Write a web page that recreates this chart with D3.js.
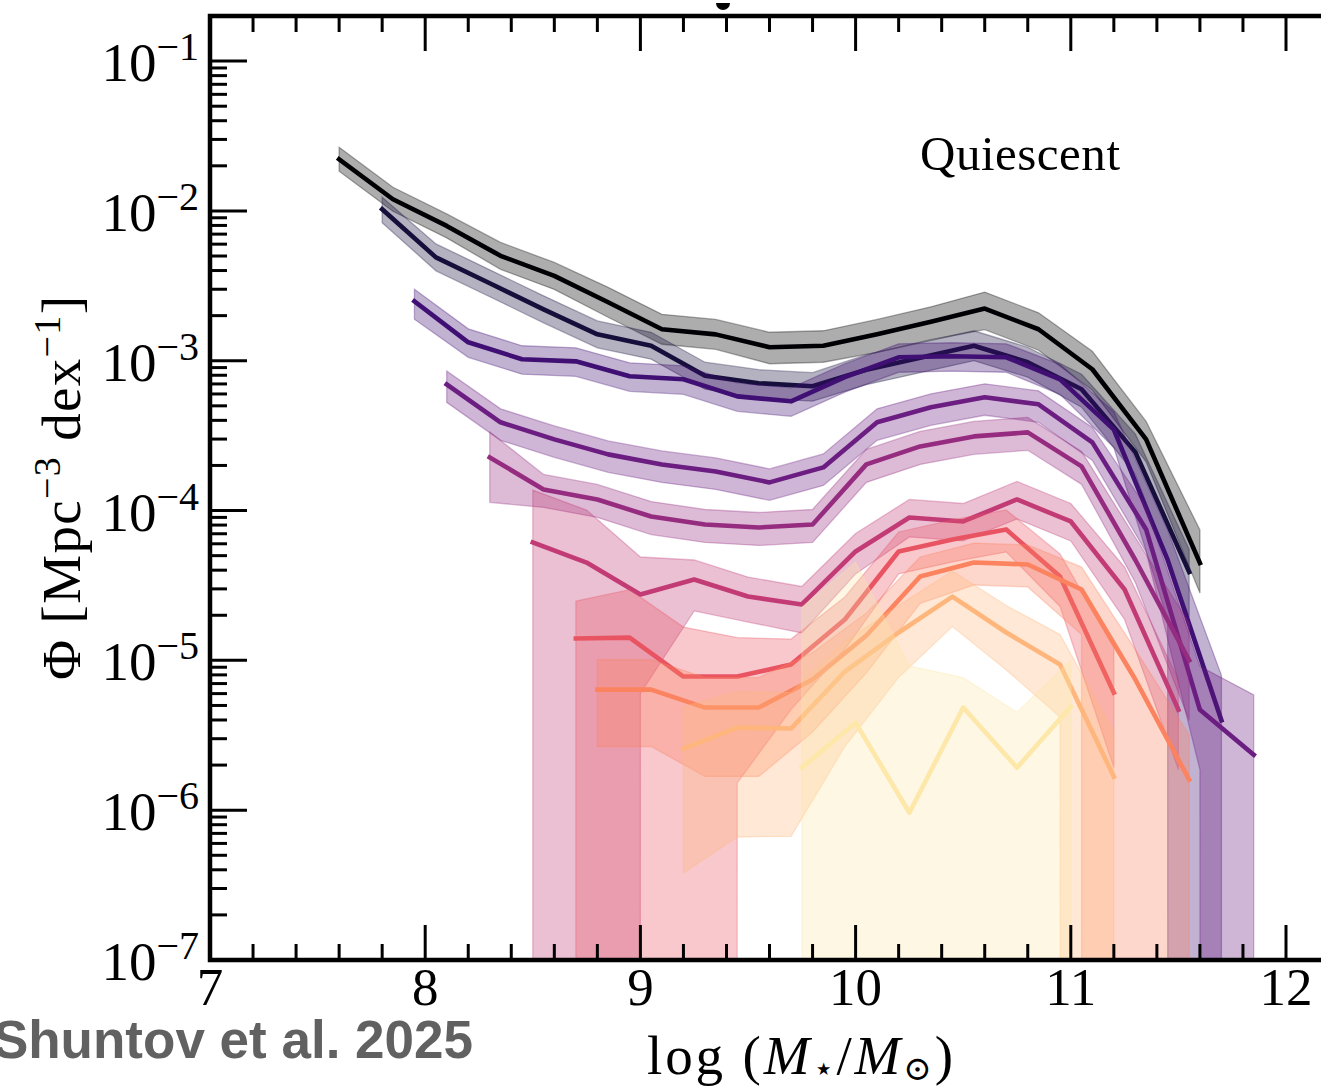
<!DOCTYPE html>
<html><head><meta charset="utf-8">
<script src="https://cdn.jsdelivr.net/npm/d3@7"></script>
<style>body{margin:0;background:#fff;overflow:hidden}svg{display:block}</style>
</head><body>
<svg id="chart" width="1321" height="1092"></svg>
<script>
// ---- data: log10(M*/Msun) bin centres, log10(Phi), and band half-widths (dex); null = lower bound unconstrained
const s0_logM = [7.6,7.85,8.1,8.35,8.6,8.85,9.1,9.35,9.6,9.85,10.1,10.35,10.6,10.85,11.1,11.35,11.6];
const s0_logPhi = [-1.655,-1.922,-2.100,-2.300,-2.434,-2.610,-2.790,-2.824,-2.910,-2.900,-2.824,-2.740,-2.652,-2.790,-3.057,-3.525,-4.350];
const s0_errUp = [0.08,0.08,0.08,0.09,0.09,0.1,0.1,0.1,0.1,0.1,0.1,0.1,0.11,0.11,0.12,0.12,0.22];
const s0_errDn = [0.08,0.08,0.08,0.09,0.09,0.1,0.1,0.1,0.11,0.11,0.12,0.12,0.14,0.14,0.14,0.15,0.2];

const s1_logM = [7.8,8.05,8.3,8.55,8.8,9.05,9.3,9.55,9.8,10.05,10.3,10.55,10.8,11.05,11.3,11.55];
const s1_logPhi = [-1.989,-2.310,-2.483,-2.657,-2.824,-2.900,-3.100,-3.150,-3.170,-3.060,-2.980,-2.900,-3.010,-3.190,-3.610,-4.410];
const s1_errUp = [0.08,0.09,0.09,0.09,0.09,0.09,0.09,0.09,0.09,0.1,0.1,0.1,0.1,0.1,0.12,0.15];
const s1_errDn = [0.09,0.09,0.09,0.09,0.09,0.09,0.09,0.1,0.1,0.1,0.1,0.1,0.1,0.12,0.15,0.3];

const s2_logM = [7.95,8.2,8.45,8.7,8.95,9.2,9.45,9.7,9.95,10.2,10.45,10.7,10.95,11.2,11.45,11.7];
const s2_logPhi = [-2.603,-2.877,-2.990,-3.004,-3.104,-3.124,-3.238,-3.271,-3.110,-2.977,-2.970,-2.977,-3.124,-3.460,-4.330,-5.400];
const s2_errUp = [0.08,0.09,0.09,0.09,0.09,0.09,0.09,0.09,0.09,0.09,0.09,0.09,0.1,0.12,0.2,0.3];
const s2_errDn = [0.12,0.1,0.1,0.1,0.1,0.1,0.1,0.1,0.1,0.1,0.1,0.1,0.1,0.12,0.4,null];

const s3_logM = [8.1,8.35,8.6,8.85,9.1,9.35,9.6,9.85,10.1,10.35,10.6,10.85,11.1,11.35,11.6,11.85];
const s3_logPhi = [-3.158,-3.411,-3.525,-3.625,-3.692,-3.739,-3.812,-3.712,-3.411,-3.311,-3.244,-3.291,-3.545,-4.126,-5.330,-5.630];
const s3_errUp = [0.09,0.09,0.09,0.09,0.09,0.09,0.09,0.09,0.09,0.09,0.09,0.09,0.1,0.15,0.29,0.4];
const s3_errDn = [0.12,0.12,0.12,0.12,0.12,0.12,0.12,0.12,0.12,0.12,0.12,0.12,0.12,0.15,0.4,null];

const s4_logM = [8.3,8.55,8.8,9.05,9.3,9.55,9.8,10.05,10.3,10.55,10.8,11.05,11.3,11.55];
const s4_logPhi = [-3.645,-3.859,-3.926,-4.040,-4.093,-4.113,-4.093,-3.692,-3.572,-3.505,-3.478,-3.705,-4.330,-5.000];
const s4_errUp = [0.17,0.1,0.1,0.1,0.1,0.1,0.1,0.1,0.1,0.1,0.1,0.1,0.15,0.25];
const s4_errDn = [0.3,0.12,0.12,0.12,0.12,0.12,0.12,0.12,0.12,0.12,0.12,0.12,0.15,0.4];

const s5_logM = [8.5,8.75,9.0,9.25,9.5,9.75,10.0,10.25,10.5,10.75,11.0,11.25,11.5];
const s5_logPhi = [-4.213,-4.347,-4.560,-4.460,-4.574,-4.627,-4.273,-4.046,-4.073,-3.926,-4.073,-4.527,-5.330];
const s5_errUp = [0.35,0.35,0.25,0.13,0.13,0.12,0.12,0.12,0.12,0.12,0.12,0.15,0.2];
const s5_errDn = [null,null,0.66,0.21,0.17,0.19,0.15,0.13,0.13,0.13,0.13,0.2,0.4];

const s6_logM = [8.7,8.95,9.2,9.45,9.7,9.95,10.2,10.45,10.7,10.95,11.2];
const s6_logPhi = [-4.854,-4.848,-5.108,-5.108,-5.028,-4.727,-4.273,-4.193,-4.126,-4.440,-5.215];
const s6_errUp = [0.25,0.32,0.33,0.26,0.17,0.15,0.13,0.13,0.13,0.15,0.3];
const s6_errDn = [null,null,null,0.71,0.3,0.2,0.15,0.15,0.15,0.2,0.5];

const s7_logM = [8.8,9.05,9.3,9.55,9.8,10.05,10.3,10.55,10.8,11.05,11.3,11.55];
const s7_logPhi = [-5.195,-5.195,-5.315,-5.315,-5.128,-4.834,-4.440,-4.347,-4.360,-4.527,-5.128,-5.796];
const s7_errUp = [0.2,0.2,0.2,0.2,0.18,0.15,0.13,0.13,0.13,0.15,0.2,0.3];
const s7_errDn = [0.38,0.38,0.46,0.46,0.35,0.25,0.18,0.15,0.15,0.3,null,null];

const s8_logM = [9.2,9.45,9.7,9.95,10.2,10.45,10.7,10.95,11.2];
const s8_logPhi = [-5.589,-5.449,-5.455,-5.075,-4.814,-4.574,-4.814,-5.028,-5.776];
const s8_errUp = [0.28,0.24,0.24,0.2,0.18,0.17,0.18,0.2,0.3];
const s8_errDn = [0.83,0.73,0.72,0.5,0.3,0.2,0.25,0.35,null];

const s9_logM = [9.75,10.0,10.25,10.5,10.75,11.0];
const s9_logPhi = [-5.716,-5.416,-6.017,-5.315,-5.716,-5.309];
const s9_errUp = [1.07,1.07,0.98,0.2,0.37,0.31];
const s9_errDn = [null,null,null,null,null,null];

const colorPos = [0, 0.106, 0.211, 0.317, 0.422, 0.528, 0.633, 0.739, 0.844, 0.95];
const xTicksMajor = [7, 8, 9, 10, 11, 12];
const yTicksMajor = [-7, -6, -5, -4, -3, -2, -1];
const panelLabel = "Quiescent";
const creditText = "Shuntov et al. 2025";

const series = [
  [s0_logM, s0_logPhi, s0_errUp, s0_errDn],
  [s1_logM, s1_logPhi, s1_errUp, s1_errDn],
  [s2_logM, s2_logPhi, s2_errUp, s2_errDn],
  [s3_logM, s3_logPhi, s3_errUp, s3_errDn],
  [s4_logM, s4_logPhi, s4_errUp, s4_errDn],
  [s5_logM, s5_logPhi, s5_errUp, s5_errDn],
  [s6_logM, s6_logPhi, s6_errUp, s6_errDn],
  [s7_logM, s7_logPhi, s7_errUp, s7_errDn],
  [s8_logM, s8_logPhi, s8_errUp, s8_errDn],
  [s9_logM, s9_logPhi, s9_errUp, s9_errDn]
].map(([xs, vs, up, dn], i) => ({
  color: d3.interpolateMagma(colorPos[i]),
  pts: xs.map((m, j) => ({m, v: vs[j], hi: vs[j] + up[j], lo: dn[j] == null ? null : vs[j] - dn[j]}))
}));

// ---- layout
const L = 210, T = 16, B = 960, R = 210 + 5.5 * 215.2;
const svg = d3.select("#chart");
const x = d3.scaleLinear().domain([7, 12.5]).range([L, R]);
const y = d3.scaleLog().domain([1e-7, 0.2]).range([B, T]);

svg.append("defs").append("clipPath").attr("id", "plotclip")
  .append("rect").attr("x", L).attr("y", T).attr("width", R - L).attr("height", B - T);

const plot = svg.append("g").attr("clip-path", "url(#plotclip)");
const area = d3.area()
  .x(d => x(d.m))
  .y1(d => y(Math.pow(10, d.hi)))
  .y0(d => d.lo == null ? B + 200000 : y(Math.pow(10, d.lo)));
const line = d3.line().x(d => x(d.m)).y(d => y(Math.pow(10, d.v)));

series.forEach(s => {
  plot.append("path").attr("d", area(s.pts))
    .attr("fill", s.color).attr("fill-opacity", 0.32)
    .attr("stroke", s.color).attr("stroke-opacity", 0.32).attr("stroke-width", 1.3);
  plot.append("path").attr("d", line(s.pts))
    .attr("fill", "none").attr("stroke", s.color).attr("stroke-width", 4.6)
    .attr("stroke-linejoin", "round").attr("stroke-linecap", "square");
});

// ---- axes
const axes = svg.append("g");
const xMinor = d3.range(7, 12.5001, 0.2).map(v => Math.round(v * 10) / 10).filter(v => !xTicksMajor.includes(v));
const yMinor = [];
for (let e = -7; e <= -1; e++) for (let k = 2; k <= 9; k++) { const v = k * Math.pow(10, e); if (v <= 0.2) yMinor.push(v); }

function tick(x1, y1, x2, y2, w) {
  axes.append("line").attr("x1", x1).attr("y1", y1).attr("x2", x2).attr("y2", y2)
    .attr("stroke", "#000").attr("stroke-width", w);
}
xTicksMajor.forEach(v => { const px = x(v); tick(px, B, px, B - 35, 3); tick(px, T, px, T + 35, 3); });
xMinor.forEach(v => { const px = x(v); tick(px, B, px, B - 16, 3); tick(px, T, px, T + 16, 3); });
yTicksMajor.forEach(e => { const py = y(Math.pow(10, e)); tick(L, py, L + 37, py, 3); });
yMinor.forEach(v => { const py = y(v); tick(L, py, L + 17, py, 3); });

// spines
axes.append("path").attr("d", `M${R},${T}H${L}V${B}H${R}`)
  .attr("fill", "none").attr("stroke", "#000").attr("stroke-width", 4.5).attr("stroke-linejoin", "miter");

const serif = "'Liberation Serif','DejaVu Serif',serif";
// x tick labels
xTicksMajor.forEach(v => {
  svg.append("text").attr("x", x(v)).attr("y", 1005).attr("text-anchor", "middle")
    .attr("font-family", serif).attr("font-size", 53).text(d3.format("d")(v));
});
// y tick labels 10^e
yTicksMajor.forEach(e => {
  const py = y(Math.pow(10, e));
  const t = svg.append("text").attr("x", 199).attr("y", py + 20).attr("text-anchor", "end")
    .attr("font-family", serif).attr("font-size", 55);
  t.append("tspan").text("10");
  t.append("tspan").attr("font-size", 40).attr("dy", -21).text("\u2212" + Math.abs(e));
});

// axis labels
const yl = svg.append("text").attr("transform", "translate(80,488) rotate(-90)")
  .attr("text-anchor", "middle").attr("font-family", serif).attr("font-size", 55)
  .attr("textLength", 384).attr("lengthAdjust", "spacing");
yl.append("tspan").text("\u03A6 [Mpc");
yl.append("tspan").attr("font-size", 38).attr("dy", -20).text("\u22123");
yl.append("tspan").attr("dy", 20).text(" dex");
yl.append("tspan").attr("font-size", 38).attr("dy", -20).text("\u22121");
yl.append("tspan").attr("dy", 20).text("]");

const xl = svg.append("text").attr("x", 800).attr("y", 1074).attr("text-anchor", "middle")
  .attr("font-family", serif).attr("font-size", 55)
  .attr("textLength", 306).attr("lengthAdjust", "spacing");
xl.append("tspan").text("log (");
xl.append("tspan").attr("font-style", "italic").text("M");
xl.append("tspan").attr("font-size", 34).attr("dy", 6).text("\u22C6");
xl.append("tspan").attr("dy", -6).text("/");
xl.append("tspan").attr("font-style", "italic").text("M");
xl.append("tspan").attr("font-size", 34).attr("dy", 6).text("\u2299");
xl.append("tspan").attr("dy", -6).text(")");

svg.append("text").attr("x", 920).attr("y", 170).attr("font-family", serif).attr("font-size", 49)
  .attr("textLength", 200).attr("lengthAdjust", "spacing").text(panelLabel);

svg.append("text").attr("x", 473).attr("y", 1058).attr("text-anchor", "end")
  .attr("font-family", "'Liberation Sans',Arial,sans-serif").attr("font-weight", "bold")
  .attr("font-size", 53).attr("fill", "#616161").text(creditText);

// remnant of cropped title glyph at the top edge
svg.append("path").attr("d", "M716,3 A7,7 0 0 0 730,3 Z").attr("fill", "#000");
</script>
</body></html>
